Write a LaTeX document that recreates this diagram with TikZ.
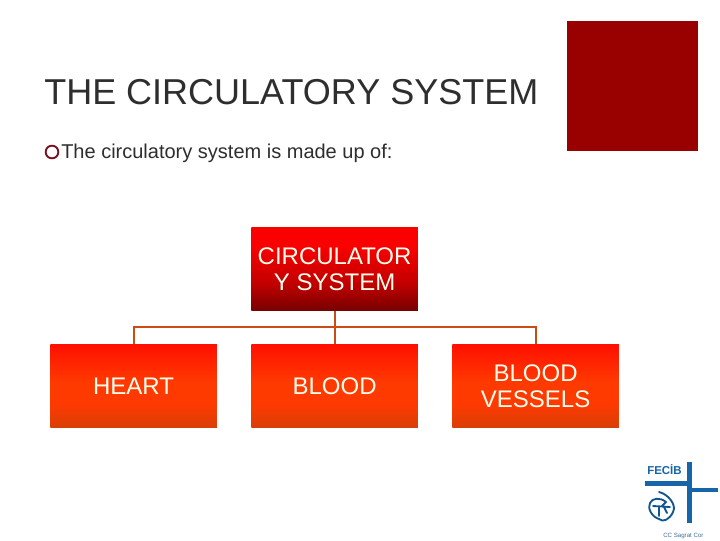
\documentclass[tikz,border=0pt]{standalone}
\usepackage{fontspec}
\setmainfont{Liberation Sans}
\definecolor{titlegray}{HTML}{2E2E2E}
\definecolor{squarered}{HTML}{990000}
\definecolor{bulletred}{HTML}{7A1020}
\definecolor{linkorange}{HTML}{CC4A14}
\definecolor{logoblue}{HTML}{1565A8}
\definecolor{rootA}{HTML}{FA0000}
\definecolor{rootB}{HTML}{C40000}
\definecolor{rootC}{HTML}{760000}
\definecolor{leafA}{HTML}{FF1000}
\definecolor{leafB}{HTML}{FF3A00}
\definecolor{leafC}{HTML}{D83F08}
\pgfdeclareverticalshading{rootshade}{100bp}{
 color(0bp)=(rootC); color(25bp)=(rootC); color(42bp)=(rootB); color(64bp)=(rootA); color(75bp)=(rootA); color(100bp)=(rootA)}
\pgfdeclareverticalshading{leafshade}{100bp}{
 color(0bp)=(leafC); color(25bp)=(leafC); color(40bp)=(leafB); color(52bp)=(leafB); color(75bp)=(leafA); color(100bp)=(leafA)}
\tikzset{
  orgbox/.style={rectangle,minimum width=125pt,minimum height=62.75pt,inner sep=0pt,align=center,
    text=white!93!yellow,font=\fontsize{18}{20}\selectfont,anchor=north west},
  rootbox/.style={orgbox,shading=rootshade},
  leafbox/.style={orgbox,shading=leafshade},
  link/.style={draw=linkorange,line width=1.5pt},
  logo/.style={draw=logoblue,line width=3.75pt},
  logothin/.style={draw=logoblue,line width=3pt},
  crest/.style={draw=logoblue!85!black,line width=1.4pt,line cap=round,line join=round}
}
\begin{document}
\begin{tikzpicture}[x=0.75pt,y=-0.75pt]
\useasboundingbox (0,0) rectangle (720,540);
\fill[white] (0,0) rectangle (720,540);
\fill[squarered] (567,21) rectangle (698,151);
\node[anchor=base west,inner sep=0pt,text=titlegray,font=\fontsize{27}{30}\selectfont] (title) at (44,104) {THE CIRCULATORY SYSTEM};
\node[draw=bulletred,line width=1.4pt,circle,minimum size=9.5pt,inner sep=0pt] (bullet) at (52,152) {};
\node[anchor=base west,inner sep=0pt,text=titlegray,font=\fontsize{15}{18}\selectfont] (body) at (61,158) {The circulatory system is made up of:};
\node[rootbox] (root) at (251,227) {CIRCULATOR\\Y SYSTEM};
\node[leafbox] (heart) at (50,344) {HEART};
\node[leafbox] (blood) at (251,344) {BLOOD};
\node[leafbox] (vessels) at (452,344) {BLOOD\\VESSELS};
\coordinate (bus) at (334.5,327);
\draw[link] (root.south) -- (blood.north);
\draw[link] (bus) -| (heart.north);
\draw[link] (bus) -| (vessels.north);
% logo
\coordinate (lv1) at (689,462);
\coordinate (lv2) at (689,523);
\coordinate (lh1) at (645,483);
\coordinate (lh2) at (689,483);
\coordinate (lh3) at (689,489.5);
\coordinate (lh4) at (718,489.5);
\draw[logo] (lv1) -- (lv2);
\draw[logo] (lh1) -- (lh2);
\draw[logothin] (lh3) -- (lh4);
\node[anchor=base west,inner sep=0pt,text=logoblue,font=\fontsize{8.6}{9}\bfseries\selectfont] (fecib) at (647,474) {FECİB};
\draw[crest] (659,492) .. controls (668,494) and (677,505) .. (673,512) .. controls (670,519) and (663,523) .. (659,519) .. controls (652,517) and (647,508) .. (650,503) .. controls (652,498) and (660,497) .. (666,502);
\draw[crest] (653,506) -- (670,507) (659,507) -- (659,516) (664,507) -- (667,513) (666,502) -- (662,506);
\node[anchor=base west,inner sep=0pt,text=logoblue!60!gray,font=\fontsize{4.6}{6}\selectfont] (sagrat) at (663,537) {CC Sagrat Cor};
\end{tikzpicture}
\end{document}
